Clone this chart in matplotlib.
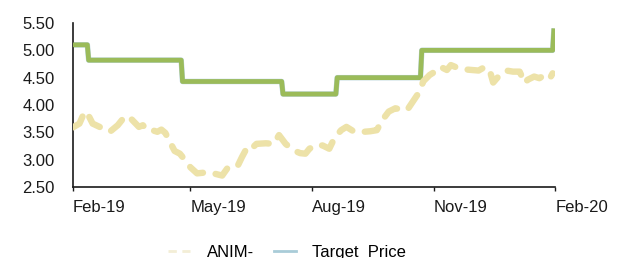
import numpy as np
import pandas as pd
import matplotlib
matplotlib.use("Agg")
import matplotlib.pyplot as plt
import matplotlib.dates as mdates
from matplotlib.lines import Line2D

plt.rcParams['font.family'] = ['Liberation Sans', 'DejaVu Sans']

# share price (ANIM-)
price_dates = ['2019-02-01', '2019-02-06', '2019-02-10', '2019-02-12', '2019-02-16',
               '2019-02-23', '2019-03-01', '2019-03-07', '2019-03-11', '2019-03-15',
               '2019-03-19', '2019-03-23', '2019-03-26', '2019-03-30', '2019-04-02',
               '2019-04-06', '2019-04-09', '2019-04-12', '2019-04-16', '2019-04-19',
               '2019-04-23', '2019-04-27', '2019-05-01', '2019-05-06', '2019-05-14',
               '2019-05-20', '2019-05-25', '2019-05-30', '2019-06-02', '2019-06-06',
               '2019-06-09', '2019-06-13', '2019-06-16', '2019-06-20', '2019-06-27',
               '2019-07-03', '2019-07-07', '2019-07-12', '2019-07-18', '2019-07-23',
               '2019-07-27', '2019-07-30', '2019-08-04', '2019-08-09', '2019-08-14',
               '2019-08-18', '2019-08-23', '2019-08-27', '2019-09-02', '2019-09-09',
               '2019-09-14', '2019-09-19', '2019-09-23', '2019-09-28', '2019-10-03',
               '2019-10-07', '2019-10-12', '2019-10-17', '2019-10-22', '2019-10-24',
               '2019-10-29', '2019-11-02', '2019-11-06', '2019-11-11', '2019-11-14',
               '2019-11-20', '2019-11-25', '2019-11-30', '2019-12-05', '2019-12-10',
               '2019-12-14', '2019-12-16', '2019-12-21', '2019-12-26', '2019-12-31',
               '2020-01-05', '2020-01-09', '2020-01-11', '2020-01-16', '2020-01-20',
               '2020-01-24', '2020-01-28', '2020-01-30']
price_values = [3.59, 3.66, 3.88, 3.85, 3.66,
                3.58, 3.51, 3.63, 3.75, 3.80,
                3.70, 3.60, 3.63, 3.53, 3.54,
                3.51, 3.55, 3.49, 3.30, 3.16,
                3.11, 2.99, 2.86, 2.75, 2.77,
                2.74, 2.71, 2.88, 2.88, 2.90,
                3.05, 3.23, 3.20, 3.29, 3.30,
                3.29, 3.45, 3.29, 3.17, 3.12,
                3.11, 3.20, 3.27, 3.26, 3.20,
                3.40, 3.54, 3.60, 3.51, 3.51,
                3.52, 3.54, 3.72, 3.88, 3.94,
                3.92, 3.91, 4.09, 4.27, 4.43,
                4.55, 4.61, 4.70, 4.64, 4.73,
                4.67, 4.65, 4.64, 4.63, 4.70,
                4.58, 4.41, 4.55, 4.63, 4.61,
                4.61, 4.40, 4.46, 4.52, 4.49,
                4.55, 4.49, 4.58]

# target price: date of each change and the new level
target_dates = ['2019-02-01', '2019-02-13', '2019-04-25', '2019-07-10',
                '2019-08-20', '2019-10-23', '2020-01-31']
target_values = [5.10, 4.82, 4.43, 4.20, 4.50, 5.00, 5.40]

yticks = [2.50, 3.00, 3.50, 4.00, 4.50, 5.00, 5.50]

pd_price = pd.to_datetime(price_dates)
tp = pd.Series(target_values, index=pd.to_datetime(target_dates))
# daily series, so each change takes one day like in the source chart
tp_daily = tp.resample('D').ffill()

fig = plt.figure(figsize=(6.17, 2.58), dpi=100)
ax = fig.add_axes([0.118, 0.275, 0.782, 0.636])

ax.plot(tp_daily.index, tp_daily.values, color='#B7D3DC', lw=3.9,
        solid_joinstyle='round', solid_capstyle='butt', zorder=2)
ax.plot(tp_daily.index, tp_daily.values, color='#9BBB59', lw=3.4,
        solid_joinstyle='round', solid_capstyle='butt', zorder=3)
ax.plot(pd_price, price_values, color='#EDE2A8', lw=4.6, linestyle=(0, (2.4, 2.0)),
        dash_capstyle='round', solid_joinstyle='round', zorder=4)

ax.set_xlim(pd.Timestamp('2019-02-01'), pd.Timestamp('2020-02-01'))
ax.set_ylim(2.5, 5.5)
ax.set_yticks(yticks)
ax.yaxis.set_major_formatter(matplotlib.ticker.FormatStrFormatter('%.2f'))
ax.xaxis.set_major_locator(mdates.MonthLocator(bymonth=[2, 5, 8, 11]))
ax.xaxis.set_major_formatter(mdates.DateFormatter('%b-%y'))
for lab in ax.get_xticklabels():
    lab.set_horizontalalignment('left')

ax.tick_params(axis='y', length=0, pad=13, labelsize=12, colors='#1a1a1a')
ax.tick_params(axis='x', length=3, width=1, pad=6, labelsize=12,
               colors='#1a1a1a', direction='out')
for s in ['top', 'right']:
    ax.spines[s].set_visible(False)
for s in ['left', 'bottom']:
    ax.spines[s].set_linewidth(1.2)
    ax.spines[s].set_color('#1a1a1a')

handles = [Line2D([], [], color='#F3EED6', lw=2, linestyle=(0, (3, 2))),
           Line2D([], [], color='#A9CCD8', lw=2)]
fig.legend(handles, ['ANIM-', 'Target  Price'], loc='upper left',
           bbox_to_anchor=(0.273, 0.05), ncol=2, frameon=False, fontsize=12,
           handlelength=1.3, handletextpad=1.0, columnspacing=1.2,
           borderaxespad=0, borderpad=0)

fig.savefig('out.png', dpi=100)
